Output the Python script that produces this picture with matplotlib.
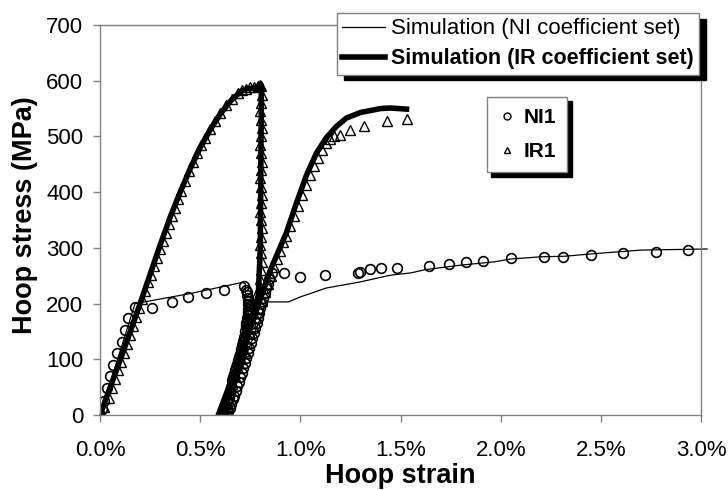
import numpy as np
import matplotlib
matplotlib.use("Agg")
import matplotlib.pyplot as plt
from matplotlib.lines import Line2D

plt.rcParams['font.family'] = ['Liberation Sans', 'DejaVu Sans']

# hoop strain in %, hoop stress in MPa
# simulation, NI coefficient set (thin line)
ni_sim_x = [0.0, 0.175, 0.45, 0.71, 0.725, 0.73, 0.62, 0.83, 0.94, 1.0, 1.13, 1.3, 1.45, 1.55,
            1.625, 1.8, 1.97, 2.05, 2.2, 2.32, 2.48, 2.7, 3.03]
ni_sim_y = [0, 200, 218, 238, 236, 180, 0, 203, 203, 212, 228, 239, 251, 255,
            261, 269, 275, 280, 284, 285, 290, 296, 298]

# simulation, IR coefficient set (thick line)
ir_sim_x = [0.0, 0.1, 0.2, 0.3, 0.35, 0.4, 0.45, 0.5, 0.55, 0.6, 0.65, 0.7, 0.73, 0.77, 0.80,
            0.805, 0.805, 0.80, 0.79, 0.69, 0.59, 0.60, 0.85, 0.93, 0.98, 1.03, 1.08, 1.13,
            1.18, 1.23, 1.30, 1.40, 1.45, 1.53]
ir_sim_y = [0, 98, 200, 305, 355, 400, 442, 480, 512, 540, 563, 580, 585, 587, 590,
            592, 560, 300, 215, 95, 0, 0, 260, 327, 380, 430, 470, 498,
            518, 533, 543, 550, 551, 549]

# test NI1 (circles)
ni1_x = [0.0, 0.01, 0.02, 0.033, 0.05, 0.067, 0.083, 0.11, 0.125, 0.14, 0.175,
         0.26, 0.36, 0.44, 0.53, 0.62, 0.72,
         0.73, 0.733, 0.735, 0.737, 0.74, 0.74, 0.742, 0.74, 0.738, 0.737, 0.735, 0.733,
         0.73, 0.728, 0.725,
         0.72, 0.715, 0.71, 0.705, 0.70, 0.695, 0.69, 0.685, 0.68, 0.675, 0.67, 0.665, 0.66,
         0.655, 0.65, 0.645, 0.64, 0.635, 0.63,
         0.64, 0.648, 0.655, 0.663, 0.67, 0.678, 0.685, 0.693, 0.70, 0.708, 0.715, 0.723,
         0.73, 0.738, 0.745, 0.753, 0.76, 0.768, 0.775, 0.783, 0.79, 0.795, 0.80, 0.808,
         0.815, 0.823, 0.83, 0.838, 0.845, 0.86,
         0.917, 1.0, 1.125, 1.29, 1.30, 1.35, 1.40, 1.48, 1.64, 1.74, 1.825, 1.91, 2.05,
         2.215, 2.31, 2.45, 2.61, 2.775, 2.935]
ni1_y = [0, 10, 25, 48, 70, 90, 111, 131, 152, 174, 194,
         192, 203, 212, 219, 225, 232,
         225, 220, 215, 210, 205, 200, 195, 190, 185, 180, 175, 170,
         165, 160, 150,
         140, 133, 125, 118, 110, 104, 98, 92, 86, 80, 74, 68, 62,
         50, 40, 30, 20, 10, 2,
         5, 12, 20, 28, 35, 44, 52, 60, 68, 76, 85, 94,
         102, 111, 120, 129, 138, 147, 156, 165, 175, 183, 192, 201,
         210, 219, 228, 236, 245, 255,
         255, 248, 251, 255, 257, 262, 264, 264, 268, 271, 275, 277, 282,
         284, 284, 287, 291, 293, 296]

# test IR1 (triangles)
ir1_x = [0.0, 0.02, 0.045, 0.06, 0.075, 0.09, 0.105, 0.12, 0.135, 0.15, 0.165, 0.18, 0.195,
         0.21, 0.225, 0.24, 0.255, 0.27, 0.285, 0.30, 0.315, 0.33, 0.345, 0.36, 0.375, 0.39,
         0.405, 0.425, 0.445, 0.465, 0.485, 0.505, 0.525, 0.55, 0.575, 0.60, 0.63, 0.66,
         0.69, 0.71, 0.73, 0.75, 0.77, 0.79, 0.80,
         0.805, 0.81, 0.805, 0.80, 0.805, 0.81, 0.805, 0.80, 0.805, 0.81, 0.805, 0.80, 0.805,
         0.81, 0.805, 0.80, 0.805, 0.81, 0.805, 0.80, 0.805, 0.81, 0.805, 0.80, 0.80,
         0.78, 0.765, 0.75, 0.74, 0.73, 0.72, 0.71, 0.70, 0.69, 0.68, 0.67, 0.66, 0.65, 0.64,
         0.63, 0.62, 0.61, 0.60, 0.595,
         0.615, 0.63, 0.645, 0.66, 0.675, 0.69, 0.705, 0.72, 0.735, 0.75, 0.765, 0.78, 0.795,
         0.81, 0.825, 0.84, 0.855, 0.87, 0.885, 0.90, 0.915, 0.93, 0.95, 0.97, 0.99, 1.01,
         1.03, 1.05, 1.07, 1.09, 1.11, 1.13, 1.15, 1.17, 1.20, 1.25, 1.32, 1.43, 1.53]
ir1_y = [0, 15, 30, 48, 64, 80, 96, 112, 128, 144, 160, 176, 192,
         208, 222, 238, 252, 268, 282, 298, 312, 326, 342, 358, 372, 388,
         402, 420, 438, 455, 470, 485, 498, 514, 528, 542, 556, 567,
         578, 584, 586, 588, 588, 590, 592,
         590, 575, 560, 545, 530, 515, 500, 485, 470, 455, 440, 425, 410,
         395, 380, 365, 350, 335, 320, 305, 290, 275, 260, 245, 230,
         215, 200, 185, 170, 155, 140, 125, 110, 97, 85, 72, 60, 48, 36,
         25, 15, 7, 2, 0,
         12, 25, 40, 55, 70, 85, 100, 115, 130, 145, 160, 175, 190,
         205, 220, 235, 250, 265, 280, 295, 310, 322, 340, 358, 376, 394,
         412, 430, 447, 462, 476, 488, 496, 500, 503, 512, 518, 527, 531]

xticks = [0.0, 0.5, 1.0, 1.5, 2.0, 2.5, 3.0]
yticks = [0, 100, 200, 300, 400, 500, 600, 700]

grey = '#808080'

fig = plt.figure(figsize=(7.28, 4.9), dpi=100)
ax = fig.add_axes([0.1374, 0.153, 0.8256, 0.796])

ax.plot(ni1_x, ni1_y, 'o', ms=7, mfc='none', mec='k', mew=1.2, ls='none')
ax.plot(ir1_x, ir1_y, '^', ms=6.5, mfc='none', mec='k', mew=1.0, ls='none')
ax.plot(ni_sim_x, ni_sim_y, color='k', lw=0.9, clip_on=False)
ax.plot(ir_sim_x, ir_sim_y, color='k', lw=4.0, solid_joinstyle='round')

ax.set_xlim(0, 3.0)
ax.set_ylim(0, 700)
ax.set_xticks(xticks)
ax.set_xticklabels(['%.1f%%' % t for t in xticks])
ax.set_yticks(yticks)
for s in ax.spines.values():
    s.set_color(grey)
    s.set_linewidth(1.0)
ax.tick_params(direction='out', length=5, width=1, color=grey, labelsize=16)
ax.tick_params(axis='x', pad=13)
ax.tick_params(axis='y', pad=7)

ax.set_xlabel('Hoop strain', fontsize=19.5, fontweight='bold')
ax.set_ylabel('Hoop stress (MPa)', fontsize=19.5, fontweight='bold')
ax.xaxis.set_label_coords(0.499, -0.122)
ax.yaxis.set_label_coords(-0.103, 0.513)

h1 = [Line2D([], [], color='k', lw=0.9), Line2D([], [], color='k', lw=4.0)]
leg1 = fig.legend(h1, ['Simulation (NI coefficient set)', 'Simulation (IR coefficient set)'],
                  loc='upper left', bbox_to_anchor=(337 / 728, 1 - 13 / 490),
                  borderaxespad=0, fontsize=15.5, frameon=True, fancybox=False,
                  edgecolor=grey, borderpad=0.25, handlelength=2.0, handletextpad=0.25,
                  labelspacing=0.42,
                  shadow={'ox': 5, 'oy': -4, 'facecolor': 'k', 'edgecolor': 'k', 'alpha': 1})
leg1.get_frame().set_linewidth(1.0)
leg1.get_texts()[0].set_fontsize(16)
leg1.get_texts()[1].set_fontweight('bold')

h2 = [Line2D([], [], ls='none', marker='o', ms=5, mfc='none', mec='k', mew=1.0),
      Line2D([], [], ls='none', marker='^', ms=5, mfc='none', mec='k', mew=1.0)]
leg2 = fig.legend(h2, ['NI1', 'IR1'], loc='upper left',
                  bbox_to_anchor=(487 / 728, 1 - 97 / 490), borderaxespad=0,
                  prop={'size': 15, 'weight': 'bold'}, frameon=True, fancybox=False,
                  edgecolor=grey, borderpad=0.55, handlelength=0.8, handletextpad=0.4,
                  labelspacing=0.7,
                  shadow={'ox': 3, 'oy': -3, 'facecolor': 'k', 'edgecolor': 'k', 'alpha': 1})
leg2.get_frame().set_linewidth(1.0)

fig.savefig('out.png', dpi=100)
